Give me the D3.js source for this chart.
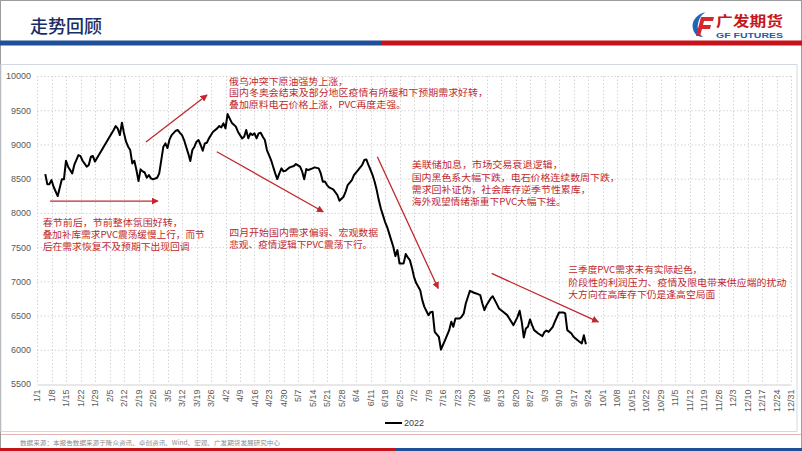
<!DOCTYPE html>
<html><head><meta charset="utf-8">
<script src="https://cdn.jsdelivr.net/npm/d3@7"></script>
<style>body{margin:0;background:#fff}svg{display:block}</style>
</head><body>
<svg id="c" width="802" height="451"></svg>
<script>
// ---------- DATA ----------
const dates = ["1/5","1/6","1/7","1/8","1/9","1/11","1/13","1/14","1/15","1/16","1/18","1/19","1/21","1/22","1/23","1/25","1/26","1/27","1/28","1/29",
"2/7","2/8","2/9","2/10","2/11","2/12","2/13","2/14","2/15","2/16","2/17","2/18","2/19","2/20","2/21","2/22","2/23","2/24","2/25","2/26","2/28",
"3/1","3/2","3/3","3/4","3/5","3/6","3/7","3/9","3/10","3/11","3/12","3/13","3/14","3/15","3/16","3/17","3/18","3/19","3/20","3/21","3/22","3/23","3/24","3/25","3/26","3/27","3/29","3/30","3/31",
"4/1","4/2","4/3","4/4","4/5","4/7","4/8","4/10","4/11","4/12","4/13","4/14","4/15","4/16","4/17","4/18","4/19","4/20","4/21","4/22","4/23","4/24","4/25","4/26","4/27","4/28","4/29","4/30",
"5/1","5/2","5/3","5/5","5/6","5/8","5/9","5/10","5/11","5/12","5/14","5/15","5/17","5/18","5/19","5/20","5/21","5/22","5/24","5/26","5/27","5/29","5/30","5/31",
"6/2","6/3","6/5","6/7","6/8","6/9","6/10","6/11","6/12","6/13","6/14","6/15","6/16","6/17","6/18","6/19","6/20","6/21","6/22","6/23","6/24","6/25","6/27","6/28","6/29","6/30",
"7/1","7/2","7/3","7/5","7/6","7/7","7/9","7/10","7/11","7/12","7/14","7/15","7/17","7/19","7/20","7/21","7/22","7/24","7/25","7/26","7/27","7/29","7/31",
"8/1","8/3","8/4","8/5","8/6","8/8","8/9","8/10","8/11","8/12","8/14","8/16","8/17","8/19","8/21","8/22","8/23","8/24","8/25","8/26","8/27","8/28","8/29","8/31",
"9/2","9/3","9/4","9/5","9/7","9/8","9/10","9/12","9/13","9/14","9/16","9/17","9/19","9/21","9/22","9/23"];
const values2022 = [8567,8417,8420,8480,8382,8246,8490,8490,8762,8675,8577,8700,8845,8830,8762,8675,8700,8821,8830,8750,
9211,9269,9230,9137,9318,9162,9040,8967,8918,8723,8762,8626,8465,8636,8606,8590,8514,8553,8504,8490,8514,
8577,8772,8967,9015,8947,9074,9137,9201,9210,9170,9137,9064,8967,8870,8757,8918,8967,9040,9064,8992,8908,9015,9025,9089,9137,9186,9235,9269,9250,
9308,9235,9444,9380,9318,9260,9186,9089,9113,9210,9089,9162,9137,9162,9089,9162,9170,9113,9064,8918,8845,8772,8675,8577,8494,8577,8650,8606,
8616,8640,8665,8684,8713,8675,8606,8490,8640,8626,8650,8665,8650,8577,8455,8460,8407,8372,8344,8261,8178,8236,8311,8407,
8480,8553,8626,8700,8772,8781,8700,8630,8553,8455,8333,8187,8065,7968,7870,7797,7700,7602,7505,7368,7456,7262,7262,7398,7350,7310,
7200,7066,6978,6871,6725,6627,6505,6550,6555,6262,6190,6004,6140,6287,6410,6336,6458,6458,6484,6530,6677,6862,6833,
6823,6798,6677,6579,6652,6750,6783,6725,6667,6604,6555,6506,6458,6360,6480,6570,6411,6180,6311,6336,6443,6360,6287,6238,
6200,6262,6280,6262,6336,6411,6545,6545,6530,6287,6238,6190,6140,6092,6213,6082];
const seriesName = "2022";
const yTicks = [5500,6000,6500,7000,7500,8000,8500,9000,9500,10000];
const xTickDayOffsets = d3.range(0, 365, 7); // 1/1, 1/8, ... 12/31

const notes = [
  {day:2.75, val:7851, gap:12, lines:["春节前后，节前整体氛围好转，","叠加补库需求PVC震荡缓慢上行，而节","后在需求恢复不及预期下出现回调"], w:[140,162,147]},
  {day:92.7, val:9917, gap:11.4, lines:["俄乌冲突下原油强势上涨，","国内冬奥会结束及部分地区疫情有所缓和下预期需求好转，","叠加原料电石价格上涨，PVC再度走强。"], w:[119,259,177]},
  {day:92.8, val:7709, gap:12, lines:["四月开始国内需求偏弱、宏观数据","悲观、疫情逻辑下PVC震荡下行。"], w:[149,143]},
  {day:180.9, val:8699, gap:12.4, lines:["美联储加息，市场交易衰退逻辑，","国内黑色系大幅下跌，电石价格连续数周下跌，","需求回补证伪，社会库存逆季节性累库，","海外观望情绪渐重下PVC大幅下挫。"], w:[151,208,179,154]},
  {day:256.5, val:7164, gap:12.5, lines:["三季度PVC需求未有实际起色，","阶段性的利润压力、疫情及限电带来供应端的扰动","大方向在高库存下仍是逢高空局面"], w:[134,218,147]}
];
const arrows = [
  [[6.3,8173],[58.4,8173]],
  [[52.6,9035],[82.1,9722]],
  [[86.8,8893],[138.2,8016]],
  [[164.3,8820],[193.7,6896]],
  [[219.5,7115],[271,6408]]
];

// ---------- HELPERS ----------
const base = new Date(2022,0,1).getTime();
const dayToDate = d => new Date(base + d*86400000);
const parseMD = s => { const [m,d] = s.split("/").map(Number); return new Date(2022, m-1, d); };
const data = dates.map((s,i)=>({date:parseMD(s), value:values2022[i]}));

const svg = d3.select("#c");
const W = 802, H = 451;
const latin = "'Liberation Sans', Arial, sans-serif";
const cjk = "'Noto Sans CJK SC', sans-serif";

// page frame
svg.append("rect").attr("x",0.5).attr("y",0.5).attr("width",W-1).attr("height",H-1)
  .attr("fill","#fff").attr("stroke","#9c9c9c");

// header
svg.append("text").attr("x",30).attr("y",33).text("走势回顾")
  .attr("font-family",cjk).attr("font-size",18).attr("font-weight",500).attr("fill","#1b2d66");
svg.append("rect").attr("x",0).attr("y",40.5).attr("width",381).attr("height",5).attr("fill","#1f4f99");
svg.append("rect").attr("x",381).attr("y",40.5).attr("width",421).attr("height",5).attr("fill","#c5131b");

// logo
const logo = svg.append("g").attr("transform","translate(692,12)");
logo.append("path").attr("d","M14,0 C4,2 -1,10 1,17 C2,22 6,25 11,25 C7,22 5,17 6,12 C7,6 10,2 14,0 Z").attr("fill","#1d66b8");
logo.append("path").attr("d","M9,5 L22,5 L21,9 L12,9 L11,13 L19,13 L18,17 L10,17 L8,24 L4,24 Z").attr("fill","#d8262d");
svg.append("text").attr("x",716).attr("y",26).text("广发期货")
  .attr("font-family",cjk).attr("font-size",14).attr("font-weight",700).attr("fill","#c8161e")
  .attr("textLength",67).attr("lengthAdjust","spacingAndGlyphs");
svg.append("text").attr("x",716).attr("y",38).text("GF FUTURES")
  .attr("font-family",latin).attr("font-size",8).attr("font-weight",700).attr("fill","#1d5cab")
  .attr("textLength",67).attr("lengthAdjust","spacingAndGlyphs");

// chart frame
svg.append("rect").attr("x",1).attr("y",64.5).attr("width",796).attr("height",367)
  .attr("fill","none").attr("stroke","#d3d9e3");

// scales
const x = d3.scaleTime().domain([dayToDate(0), dayToDate(364)]).range([37,791]);
const y = d3.scaleLinear().domain([5500,10000]).range([384,76]);
const xTickDates = xTickDayOffsets.map(dayToDate);
const fmt = d3.timeFormat("%-m/%-d");

// grid
const g = svg.append("g");
g.selectAll(".hg").data(yTicks.filter(v=>v>5500)).join("line")
  .attr("x1",37).attr("x2",791).attr("y1",d=>y(d)+0.5).attr("y2",d=>y(d)+0.5)
  .attr("stroke","#d4d4d4").attr("stroke-width",1).attr("stroke-dasharray","1.5,2");
g.selectAll(".vg").data(xTickDates).join("line")
  .attr("x1",d=>Math.round(x(d))+0.5).attr("x2",d=>Math.round(x(d))+0.5).attr("y1",76).attr("y2",384)
  .attr("stroke","#d4d4d4").attr("stroke-width",1).attr("stroke-dasharray","1.5,2");

// axes
const xAxis = d3.axisBottom(x).tickValues(xTickDates).tickFormat(fmt).tickSize(0).tickPadding(0);
const xg = svg.append("g").attr("transform","translate(0,384.5)").call(xAxis);
xg.select(".domain").attr("stroke","#d0d0d0");
xg.selectAll("text").attr("font-family",latin).attr("font-size",9).attr("fill","#595959")
  .attr("transform","rotate(-90)").attr("text-anchor","end").attr("x",-5).attr("y",0).attr("dy","0.33em");

const yAxis = d3.axisLeft(y).tickValues(yTicks).tickFormat(d3.format("d")).tickSize(0).tickPadding(0);
const yg = svg.append("g").attr("transform","translate(31,0)").call(yAxis);
yg.select(".domain").remove();
yg.selectAll("text").attr("font-family",latin).attr("font-size",9).attr("fill","#595959");

// series line
svg.append("path").datum(data)
  .attr("d", d3.line().x(d=>x(d.date)).y(d=>y(d.value)))
  .attr("fill","none").attr("stroke","#000").attr("stroke-width",2).attr("stroke-linejoin","round");

// arrows
const red = "#c0282d";
svg.append("defs").append("marker").attr("id","ah").attr("viewBox","0 0 10 10")
  .attr("refX",9).attr("refY",5).attr("markerWidth",7).attr("markerHeight",7)
  .attr("markerUnits","userSpaceOnUse").attr("orient","auto")
  .append("path").attr("d","M0,0 L10,5 L0,10 Z").attr("fill",red);
svg.selectAll(".arr").data(arrows).join("line")
  .attr("x1",d=>x(dayToDate(d[0][0]))).attr("y1",d=>y(d[0][1]))
  .attr("x2",d=>x(dayToDate(d[1][0]))).attr("y2",d=>y(d[1][1]))
  .attr("stroke",red).attr("stroke-width",1.3).attr("marker-end","url(#ah)");

// annotation texts
notes.forEach(n=>{
  const x0 = x(dayToDate(n.day)), y0 = y(n.val);
  n.lines.forEach((t,i)=>{
    svg.append("text").attr("x",x0).attr("y",y0 + i*n.gap).attr("dy","0.36em").text(t)
      .attr("font-family",cjk).attr("font-size",9).attr("fill","#c0282d")
      .attr("textLength",n.w[i]).attr("lengthAdjust","spacingAndGlyphs");
  });
});

// legend
svg.append("line").attr("x1",385).attr("x2",402).attr("y1",423).attr("y2",423).attr("stroke","#000").attr("stroke-width",2);
svg.append("text").attr("x",404).attr("y",423).attr("dy","0.35em").text(seriesName)
  .attr("font-family",latin).attr("font-size",9).attr("fill","#404040");

// footer
svg.append("line").attr("x1",1).attr("x2",801).attr("y1",434.5).attr("y2",434.5).attr("stroke","#e2b4b4");
svg.append("text").attr("x",20).attr("y",443).attr("dy","0.35em")
  .text("数据来源：本报告数据来源于隆众资讯、卓创资讯、Wind、宏观、广发期货发展研究中心")
  .attr("font-family",cjk).attr("font-size",6).attr("fill","#8a8a8a")
  .attr("textLength",260).attr("lengthAdjust","spacingAndGlyphs");
svg.append("rect").attr("x",0).attr("y",448).attr("width",396).attr("height",3).attr("fill","#c5131b");
svg.append("rect").attr("x",396).attr("y",448).attr("width",406).attr("height",3).attr("fill","#1f4f99");
</script>
</body></html>
